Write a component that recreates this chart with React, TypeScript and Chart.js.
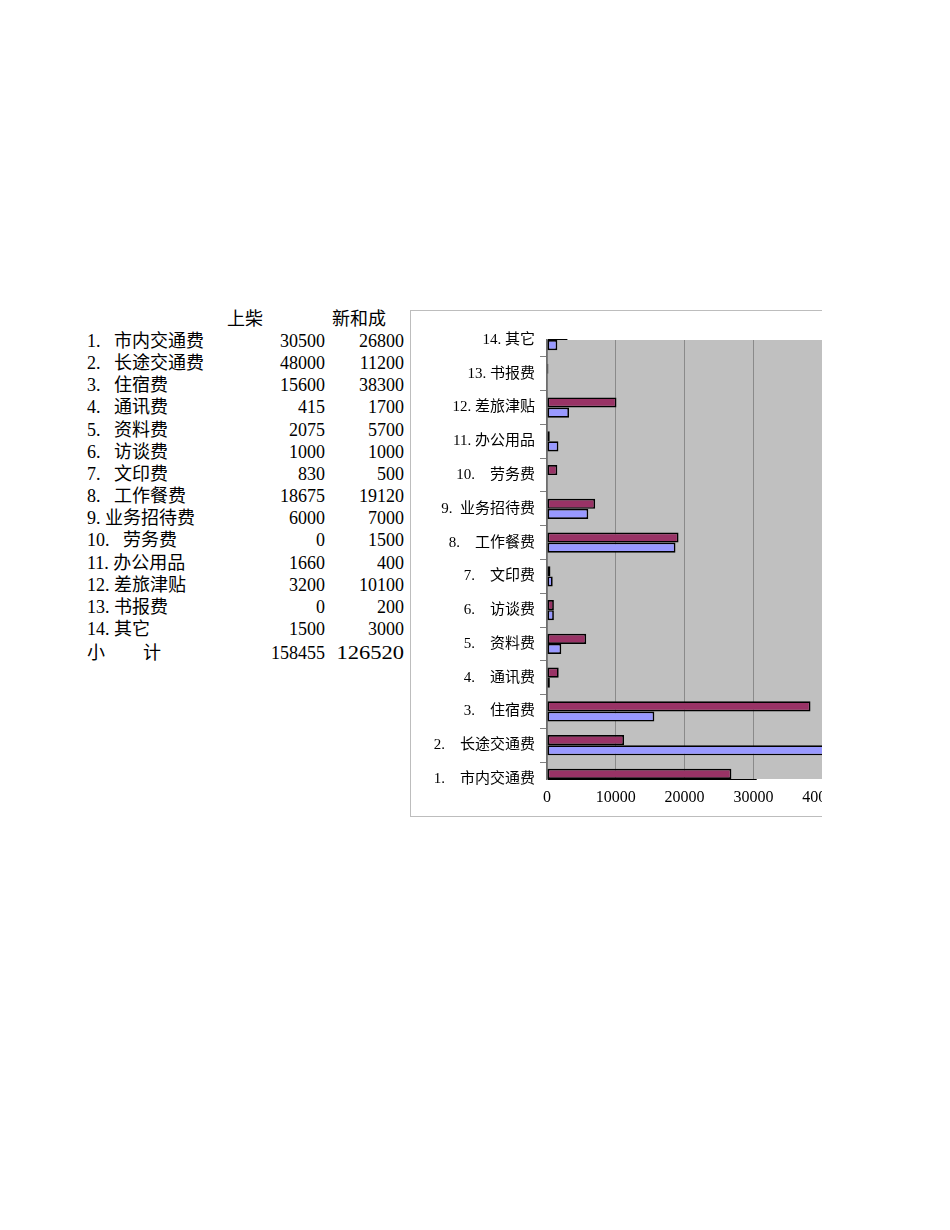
import React, { useEffect, useRef } from 'react';
import { Chart, registerables } from 'chart.js';

Chart.register(...registerables);

// table rows (top to bottom)
const tableLabels = [
  '1.   市内交通费',
  '2.   长途交通费',
  '3.   住宿费',
  '4.   通讯费',
  '5.   资料费',
  '6.   访谈费',
  '7.   文印费',
  '8.   工作餐费',
  '9. 业务招待费',
  '10.   劳务费',
  '11. 办公用品',
  '12. 差旅津贴',
  '13. 书报费',
  '14. 其它',
];

// category axis labels (item 1 sits at the bottom of the chart)
const chartLabels = [
  '1.    市内交通费',
  '2.    长途交通费',
  '3.    住宿费',
  '4.    通讯费',
  '5.    资料费',
  '6.    访谈费',
  '7.    文印费',
  '8.    工作餐费',
  '9.  业务招待费',
  '10.    劳务费',
  '11. 办公用品',
  '12. 差旅津贴',
  '13. 书报费',
  '14. 其它',
];

const seriesNames = ['上柴', '新和成'];
const shangchai = [30500, 48000, 15600, 415, 2075, 1000, 830, 18675, 6000, 0, 1660, 3200, 0, 1500];
const xinhecheng = [26800, 11200, 38300, 1700, 5700, 1000, 500, 19120, 7000, 1500, 400, 10100, 200, 3000];
const subtotalLabel = ['小', '计'];
const subtotals = [158455, 126520];
const xTicks = [0, 10000, 20000, 30000, 40000, 50000];

const TEXT_FONT = '"Liberation Serif", "Noto Sans CJK SC", serif';

const plotBackground = {
  id: 'plotBackground',
  beforeDraw(chart: Chart) {
    const { ctx, chartArea } = chart;
    ctx.save();
    ctx.fillStyle = '#c0c0c0';
    ctx.fillRect(chartArea.left, chartArea.top, chartArea.right - chartArea.left, chartArea.bottom - chartArea.top);
    ctx.restore();
  },
};

function CostChart() {
  const chartRef = useRef<HTMLCanvasElement>(null);
  const chartInstance = useRef<Chart | null>(null);

  useEffect(() => {
    if (!chartRef.current) return;
    const ctx = chartRef.current.getContext('2d');
    if (!ctx) return;

    if (chartInstance.current) chartInstance.current.destroy();

    const barStyle = {
      borderColor: '#000000',
      borderWidth: 1.7,
      borderSkipped: false as const,
      categoryPercentage: 0.6,
      barPercentage: 1,
      clip: { left: 0, top: 1, right: 0, bottom: 1 },
    };

    chartInstance.current = new Chart(ctx, {
      type: 'bar',
      data: {
        labels: chartLabels,
        datasets: [
          { label: seriesNames[1], data: xinhecheng, backgroundColor: '#993366', ...barStyle },
          { label: seriesNames[0], data: shangchai, backgroundColor: '#9999ff', ...barStyle },
        ],
      },
      options: {
        indexAxis: 'y',
        animation: false,
        responsive: true,
        maintainAspectRatio: false,
        layout: { padding: { left: 0, top: 29, right: 40, bottom: 0 } },
        plugins: {
          legend: { display: false },
          tooltip: { enabled: false },
        },
        scales: {
          x: {
            min: 0,
            max: 50000,
            afterBuildTicks: (scale) => {
              scale.ticks = xTicks.map((v) => ({ value: v }));
            },
            afterFit: (scale) => {
              scale.height = 37;
            },
            grid: { color: '#8a8a8a', lineWidth: 1, drawTicks: false },
            border: { display: false },
            ticks: {
              padding: 9,
              color: '#000',
              maxRotation: 0,
              font: { family: TEXT_FONT, size: 16 },
              callback: (v) => String(v),
            },
          },
          y: {
            type: 'category',
            reverse: true,
            offset: false,
            afterFit: (scale) => {
              scale.width = 136;
            },
            grid: {
              drawOnChartArea: false,
              drawTicks: true,
              tickLength: 7,
              color: '#808080',
            },
            border: { display: true, color: '#6e6e6e', width: 1.5 },
            ticks: {
              autoSkip: false,
              padding: 5,
              color: '#000',
              font: { family: TEXT_FONT, size: 15 },
            },
          },
        },
      },
      plugins: [plotBackground],
    });

    return () => {
      if (chartInstance.current) {
        chartInstance.current.destroy();
        chartInstance.current = null;
      }
    };
  }, []);

  return (
    <div style={{ position: 'absolute', left: 410, top: 310, width: 412, height: 507, overflow: 'hidden' }}>
      <div style={{ width: 520, height: 505, border: '1px solid #bdbdbd', position: 'relative' }}>
        <canvas ref={chartRef}></canvas>
      </div>
    </div>
  );
}

const cell: React.CSSProperties = {
  position: 'absolute',
  height: 22,
  lineHeight: '22px',
  whiteSpace: 'pre',
  fontFamily: TEXT_FONT,
  fontSize: 18,
  color: '#000',
};

export default function App() {
  const rowTop = (i: number) => 341 + i * 22.15 - 11;

  return (
    <div style={{ position: 'absolute', left: 0, top: 0, width: 950, height: 1230, background: '#fff' }}>
      <div style={{ ...cell, left: 227, top: 308 }}>{seriesNames[0]}</div>
      <div style={{ ...cell, left: 332, top: 308 }}>{seriesNames[1]}</div>

      {tableLabels.map((label, i) => (
        <React.Fragment key={label}>
          <div style={{ ...cell, left: 87, top: rowTop(i) }}>{label}</div>
          <div style={{ ...cell, left: 225, width: 100, textAlign: 'right', top: rowTop(i) }}>{shangchai[i]}</div>
          <div style={{ ...cell, left: 304, width: 100, textAlign: 'right', top: rowTop(i) }}>{xinhecheng[i]}</div>
        </React.Fragment>
      ))}

      <div style={{ ...cell, left: 87, top: 642 }}>{subtotalLabel[0]}</div>
      <div style={{ ...cell, left: 143, top: 642 }}>{subtotalLabel[1]}</div>
      <div style={{ ...cell, left: 225, width: 100, textAlign: 'right', top: 642 }}>{subtotals[0]}</div>
      <div
        style={{
          ...cell,
          left: 304,
          width: 100,
          textAlign: 'right',
          top: 642,
          transform: 'scaleX(1.25)',
          transformOrigin: 'right center',
        }}
      >
        {subtotals[1]}
      </div>

      <CostChart />
    </div>
  );
}
